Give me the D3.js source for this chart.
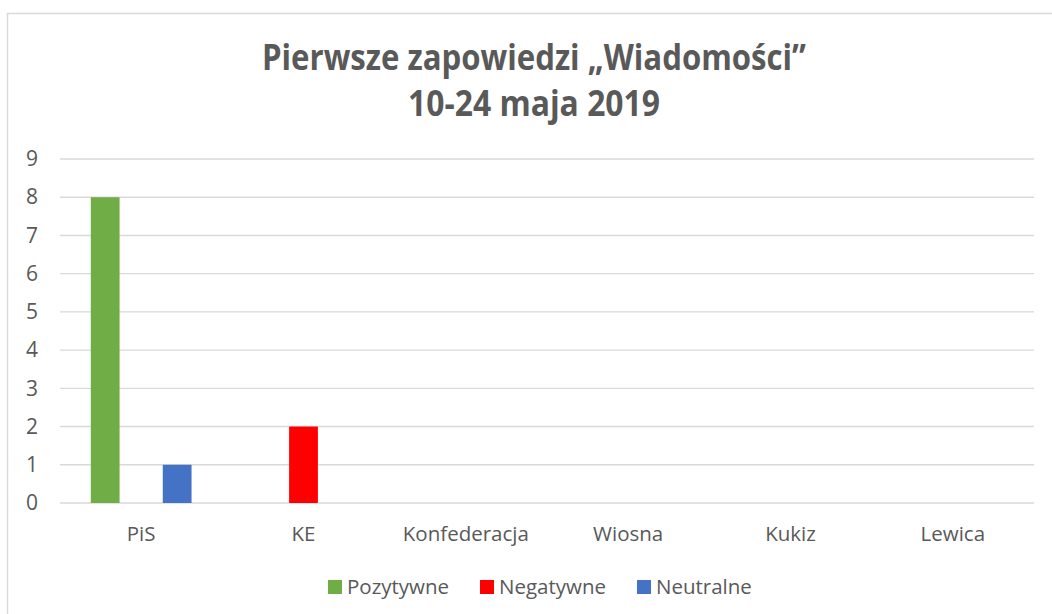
<!DOCTYPE html>
<html>
<head>
<meta charset="utf-8">
<script src="https://cdn.jsdelivr.net/npm/d3@7"></script>
<style>
  body { margin: 0; background: #fff; }
  svg { display: block; }
</style>
</head>
<body>
<svg id="chart" width="1052" height="614"></svg>
<script>
// Dane
var categories = ["PiS", "KE", "Konfederacja", "Wiosna", "Kukiz", "Lewica"];
var seriesNames = ["Pozytywne", "Negatywne", "Neutralne"];
var seriesColors = ["#70AD47", "#FF0000", "#4472C4"];
var pozytywne = [8, 0, 0, 0, 0, 0];
var negatywne = [0, 2, 0, 0, 0, 0];
var neutralne = [1, 0, 0, 0, 0, 0];
var yTicks = [0, 1, 2, 3, 4, 5, 6, 7, 8, 9];
var titleLines = ["Pierwsze zapowiedzi \u201eWiadomo\u015bci\u201d", "10-24 maja 2019"];

var seriesValues = [pozytywne, negatywne, neutralne];

var svg = d3.select("#chart");
var textColor = "#595959";
var font = "'Segoe UI', 'Open Sans', 'Noto Sans', sans-serif";

// ramka wykresu (ucięta z prawej i od dołu)
svg.append("path")
    .attr("d", "M7.5,620 V13.5 H1060")
    .attr("fill", "none")
    .attr("stroke", "#d9d9d9")
    .attr("stroke-width", 1.5);

// tytuł - Calibri jest wąski, więc ściskam tekst do szerokości z oryginału
var titleWidths = [544, 252];
svg.append("g").selectAll("text")
    .data(titleLines)
    .enter().append("text")
    .attr("x", 534)
    .attr("y", function(d, i) { return 70 + i * 46; })
    .attr("text-anchor", "middle")
    .attr("font-family", "'Liberation Sans Narrow', 'Open Sans', sans-serif")
    .attr("font-weight", "bold")
    .attr("font-size", 35)
    .attr("textLength", function(d, i) { return titleWidths[i]; })
    .attr("lengthAdjust", "spacingAndGlyphs")
    .attr("fill", textColor)
    .text(function(d) { return d; });

var mLeft = 60, mRight = 1034, mTop = 159, mBottom = 503;

var x0 = d3.scaleBand()
    .domain(categories)
    .range([mLeft, mRight])
    .paddingInner(0.335)
    .paddingOuter(0.1675);

var x1 = d3.scaleBand()
    .domain(seriesNames)
    .range([0, x0.bandwidth()])
    .paddingInner(0.2)
    .paddingOuter(0.1);

var y = d3.scaleLinear()
    .domain([0, 9])
    .range([mBottom, mTop]);

// linie siatki
svg.append("g").selectAll("line")
    .data(yTicks)
    .enter().append("line")
    .attr("x1", mLeft)
    .attr("x2", mRight)
    .attr("y1", function(d) { return y(d); })
    .attr("y2", function(d) { return y(d); })
    .attr("stroke", "#d9d9d9")
    .attr("stroke-width", 1.4);

// oś Y
var yAxis = svg.append("g")
    .attr("transform", "translate(" + (mLeft - 22) + ",0)")
    .call(d3.axisLeft(y).tickValues(yTicks).tickSize(0).tickPadding(0));
yAxis.select(".domain").remove();
yAxis.selectAll("text")
    .attr("font-family", font)
    .attr("font-size", 21)
    .attr("fill", textColor);

// oś X
var xAxis = svg.append("g")
    .attr("transform", "translate(0," + mBottom + ")")
    .call(d3.axisBottom(x0).tickSize(0).tickPadding(23));
xAxis.select(".domain").remove();
xAxis.selectAll("text")
    .attr("font-family", font)
    .attr("font-size", 20.5)
    .attr("fill", textColor);

// słupki
var groups = svg.append("g").selectAll("g")
    .data(categories)
    .enter().append("g")
    .attr("transform", function(d) { return "translate(" + x0(d) + ",0)"; });

groups.selectAll("rect")
    .data(function(d, ci) {
        return seriesNames.map(function(s, si) {
            return { series: s, value: seriesValues[si][ci], color: seriesColors[si] };
        });
    })
    .enter().append("rect")
    .filter(function(d) { return d.value > 0; })
    .attr("x", function(d) { return x1(d.series); })
    .attr("y", function(d) { return y(d.value); })
    .attr("width", x1.bandwidth())
    .attr("height", function(d) { return y(0) - y(d.value); })
    .attr("fill", function(d) { return d.color; });

// legenda
var legendX = [328, 480, 637];
var legend = svg.append("g").selectAll("g")
    .data(seriesNames)
    .enter().append("g")
    .attr("transform", function(d, i) { return "translate(" + legendX[i] + ",580)"; });

legend.append("rect")
    .attr("width", 14)
    .attr("height", 14)
    .attr("fill", function(d, i) { return seriesColors[i]; });

legend.append("text")
    .attr("x", 19)
    .attr("y", 14)
    .attr("font-family", font)
    .attr("font-size", 20.5)
    .attr("fill", textColor)
    .text(function(d) { return d; });
</script>
</body>
</html>
